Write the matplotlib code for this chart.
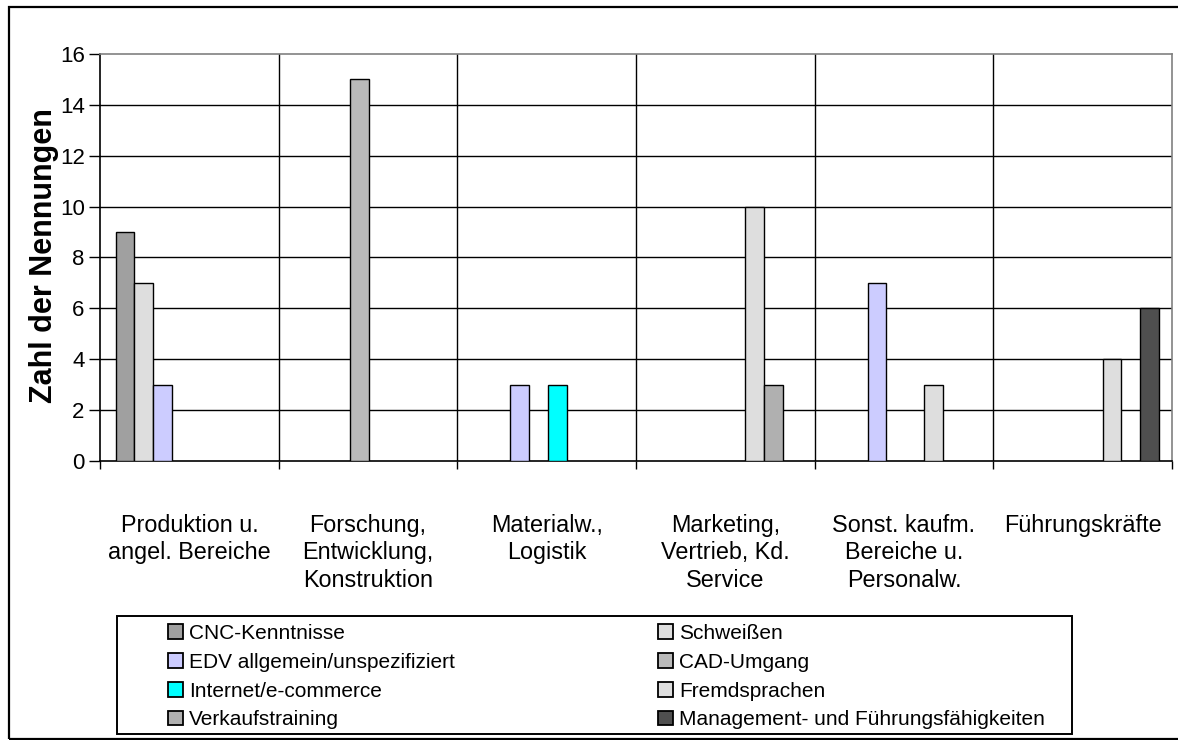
import numpy as np
import matplotlib
matplotlib.use("Agg")
import matplotlib.pyplot as plt
from matplotlib.patches import Rectangle, Patch

plt.rcParams['font.family'] = ['Liberation Sans', 'DejaVu Sans']

categories = [
    "Produktion u.\nangel. Bereiche",
    "Forschung,\nEntwicklung,\nKonstruktion",
    "Materialw.,\nLogistik",
    "Marketing,\nVertrieb, Kd.\nService",
    "Sonst. kaufm.\nBereiche u.\nPersonalw.",
    "Führungskräfte",
]

series_names = [
    "CNC-Kenntnisse",
    "Schweißen",
    "EDV allgemein/unspezifiziert",
    "CAD-Umgang",
    "Internet/e-commerce",
    "Fremdsprachen",
    "Verkaufstraining",
    "Management- und Führungsfähigkeiten",
]

cnc = [9, 0, 0, 0, 0, 0]
schweissen = [7, 0, 0, 0, 0, 0]
edv = [3, 0, 3, 0, 7, 0]
cad = [0, 15, 0, 0, 0, 0]
internet = [0, 0, 3, 0, 0, 0]
fremdsprachen = [0, 0, 0, 10, 3, 4]
verkauf = [0, 0, 0, 3, 0, 0]
management = [0, 0, 0, 0, 0, 6]

series_values = [cnc, schweissen, edv, cad, internet, fremdsprachen, verkauf, management]
colors = ["#a0a0a0", "#dedede", "#ccccff", "#bababa", "#00ffff", "#dedede", "#b0b0b0", "#4f4f4f"]

W, H = 1178, 740
fig = plt.figure(figsize=(W / 100, H / 100), dpi=100)

# outer frame of the whole chart
fig.patches.append(Rectangle((9 / W, 1 - 739 / H), (1200 - 9) / W, (739 - 7) / H,
                             transform=fig.transFigure, fill=False,
                             edgecolor="black", linewidth=1.6, zorder=0))

ax = fig.add_axes([100 / W, (H - 461) / H, 1072 / W, (461 - 54) / H])

n_groups = len(categories)
bar_w = 0.105
x = np.arange(n_groups)

# gridlines
for yv in range(2, 16, 2):
    ax.axhline(yv, color="black", linewidth=1.0, zorder=1)
for b in range(1, n_groups):
    ax.axvline(b - 0.5, color="black", linewidth=1.0, zorder=1)

for i, (vals, col) in enumerate(zip(series_values, colors)):
    vals = np.array(vals, dtype=float)
    mask = vals > 0
    ax.bar(x[mask] + (i - 3.5) * bar_w + 0.007, vals[mask], width=bar_w,
           color=col, edgecolor="black", linewidth=1.0, zorder=3)

ax.set_xlim(-0.5, n_groups - 0.5)
ax.set_ylim(0, 16)
ax.set_yticks(range(0, 17, 2))
ax.tick_params(axis="y", direction="out", length=8, width=1.0, labelsize=16, pad=3)

ax.set_xticks(np.arange(-0.5, n_groups, 1.0))
ax.set_xticklabels([])
ax.tick_params(axis="x", direction="out", length=6, width=1.0)
ax.set_xticks(x, minor=True)
ax.set_xticklabels(categories, minor=True, fontsize=16.8, linespacing=1.25, va="top")
ax.tick_params(axis="x", which="minor", length=0, pad=38)

for side in ["top", "right"]:
    ax.spines[side].set_color("#808080")
    ax.spines[side].set_linewidth(1.2)
for side in ["left", "bottom"]:
    ax.spines[side].set_color("black")
    ax.spines[side].set_linewidth(1.2)

fig.text(44 / W, 1 - 256 / H, "Zahl der Nennungen", rotation=90,
         ha="center", va="center", fontsize=22, fontweight="bold")

# legend box
fig.patches.append(Rectangle((117 / W, 1 - 734 / H), (1072 - 117) / W, (734 - 616) / H,
                             transform=fig.transFigure, fill=False,
                             edgecolor="black", linewidth=1.4, zorder=2))

handles = [Patch(facecolor=c, edgecolor="black", linewidth=1.3) for c in colors]
leg_kw = dict(loc="upper left", frameon=False, fontsize=15, handlelength=0.7,
              handleheight=0.7, handletextpad=0.3, labelspacing=0.47,
              borderpad=0.0, borderaxespad=0.0)
left_idx = [0, 2, 4, 6]
right_idx = [1, 3, 5, 7]
fig.legend([handles[k] for k in left_idx], [series_names[k] for k in left_idx],
           bbox_to_anchor=(168 / W, 1 - 624 / H), **leg_kw)
fig.legend([handles[k] for k in right_idx], [series_names[k] for k in right_idx],
           bbox_to_anchor=(658 / W, 1 - 624 / H), **leg_kw)

fig.savefig("out.png", dpi=100)
